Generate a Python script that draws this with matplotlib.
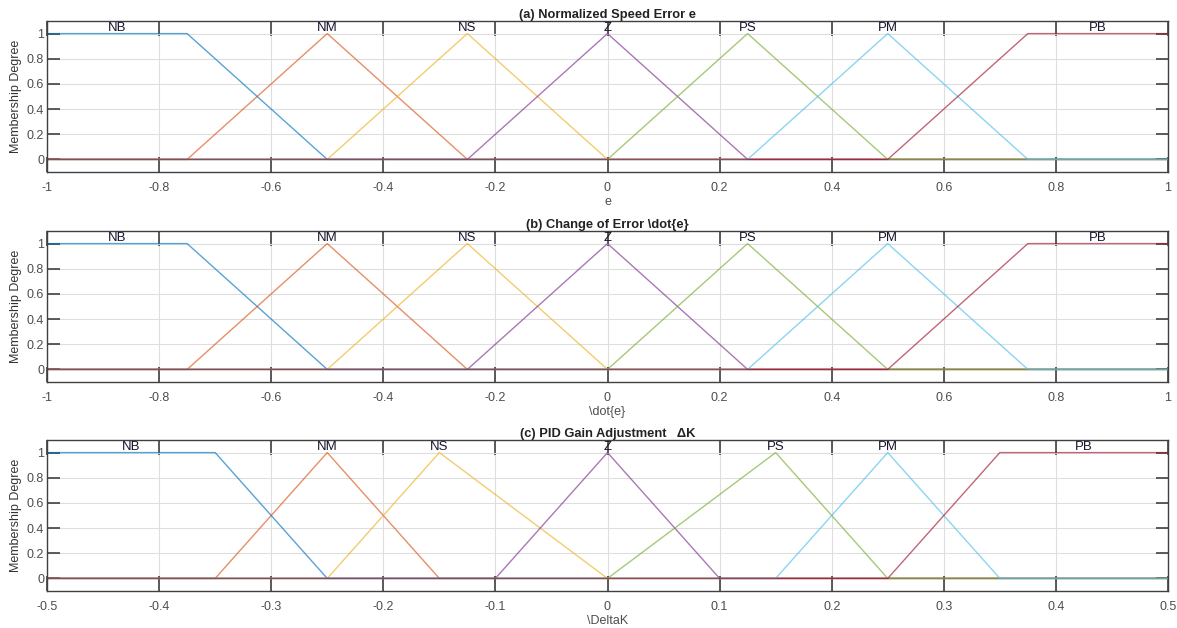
import numpy as np
import matplotlib.pyplot as plt
from matplotlib.ticker import FormatStrFormatter

plt.rcParams['font.family'] = ['Liberation Sans', 'DejaVu Sans']

labels = ['NB', 'NM', 'NS', 'Z', 'PS', 'PM', 'PB']
# MATLAB default line colours
colors = ['#0072BD', '#D95319', '#EDB120', '#7E2F8E', '#77AC30', '#4DBEEE', '#A2142F']

# trapezoid/triangle breakpoints [a, b, c, d] (b==c for triangles)
mf_e = [[-1.0, -1.0, -0.75, -0.5],
        [-0.75, -0.5, -0.5, -0.25],
        [-0.5, -0.25, -0.25, 0.0],
        [-0.25, 0.0, 0.0, 0.25],
        [0.0, 0.25, 0.25, 0.5],
        [0.25, 0.5, 0.5, 0.75],
        [0.5, 0.75, 1.0, 1.0]]
mf_de = mf_e
mf_dk = [[-0.5, -0.5, -0.35, -0.25],
         [-0.35, -0.25, -0.25, -0.15],
         [-0.25, -0.15, -0.15, 0.0],
         [-0.1, 0.0, 0.0, 0.1],
         [0.0, 0.15, 0.15, 0.25],
         [0.15, 0.25, 0.25, 0.35],
         [0.25, 0.35, 0.5, 0.5]]

xticks_e = [-1, -0.8, -0.6, -0.4, -0.2, 0, 0.2, 0.4, 0.6, 0.8, 1]
xticks_dk = [-0.5, -0.4, -0.3, -0.2, -0.1, 0, 0.1, 0.2, 0.3, 0.4, 0.5]

panels = [
    ('(a) Normalized Speed Error e', 'e', mf_e, (-1, 1), xticks_e),
    ('(b) Change of Error \\dot{e}', '\\dot{e}', mf_de, (-1, 1), xticks_e),
    ('(c) PID Gain Adjustment   ΔK', '\\DeltaK', mf_dk, (-0.5, 0.5), xticks_dk),
]

W, H = 1177, 628
fig = plt.figure(figsize=(W / 100, H / 100), dpi=100)
tops = [21, 231, 440]
ax_h = 151
left, right = 47, 1168

for (title, xlabel, mfs, xr, xt), top in zip(panels, tops):
    ax = fig.add_axes([left / W, 1 - (top + ax_h) / H, (right - left) / W, ax_h / H])
    for p, lab, c in zip(mfs, labels, colors):
        a, b, cc, d = p
        xs = [xr[0], a, b, cc, d, xr[1]]
        ys = [0, 0, 1, 1, 0, 0]
        if a == xr[0] and b == xr[0]:
            xs, ys = [xr[0], cc, d, xr[1]], [1, 1, 0, 0]
        if cc == xr[1] and d == xr[1]:
            xs, ys = [xr[0], a, b, xr[1]], [0, 0, 1, 1]
        ax.plot(xs, ys, color=c, lw=1.0, alpha=0.65)
        ax.text((b + cc) / 2, 1.045, lab, ha='center', va='center',
                fontsize=9.5, color='#15152e')
    ax.set_xlim(*xr)
    ax.set_ylim(-0.1, 1.1)
    ax.set_xticks(xt)
    ax.set_yticks([0, 0.2, 0.4, 0.6, 0.8, 1])
    ax.xaxis.set_major_formatter(FormatStrFormatter('%g'))
    ax.yaxis.set_major_formatter(FormatStrFormatter('%g'))
    ax.grid(True, color='#dedede', lw=0.8)
    ax.set_axisbelow(True)
    ax.tick_params(direction='in', top=True, right=True, length=11, width=1.2,
                   color='#404040', labelsize=9, labelcolor='#4d4d4d', pad=7)
    ax.tick_params(axis='y', length=9, pad=2)
    for s in ax.spines.values():
        s.set_color('#404040')
        s.set_linewidth(1.0)
    ax.set_title(title, fontsize=9.3, fontweight='bold', color='#222222', pad=2)
    ax.set_xlabel(xlabel, fontsize=9, color='#4d4d4d', labelpad=2)
    ax.set_ylabel('Membership Degree', fontsize=9, color='#333333')
    ax.yaxis.set_label_coords(-0.022, 0.5)

fig.savefig('out.png', dpi=100)
